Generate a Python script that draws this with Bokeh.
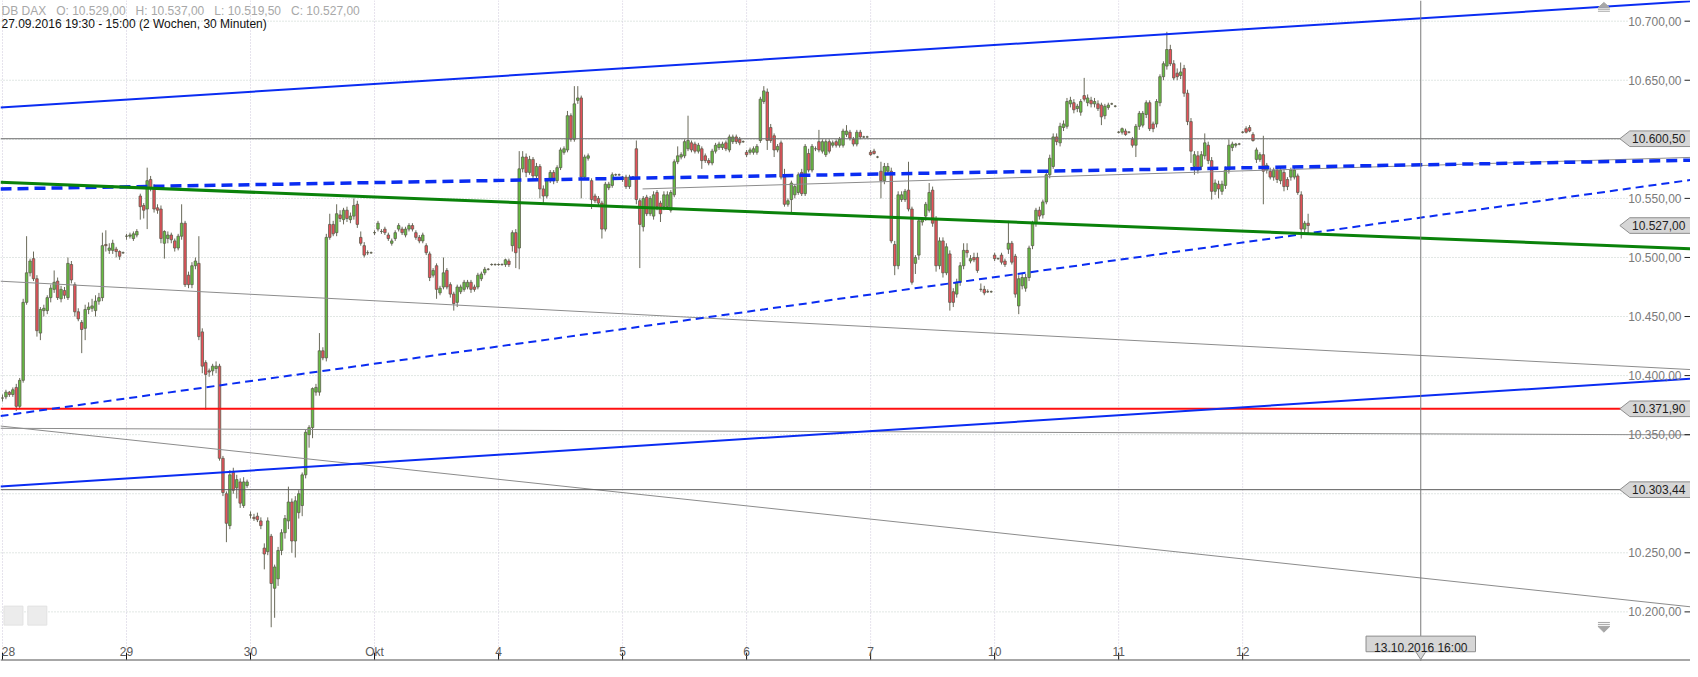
from bokeh.plotting import figure
from bokeh.models import Range1d, ColumnDataSource
from bokeh.embed import file_html
from bokeh.resources import INLINE
from bokeh.core.properties import value

# ---------------- data ----------------
day_labels = ["28", "29", "30", "Okt", "4", "5", "6", "7", "10", "11", "12"]
day_start_bar = [0, 36, 72, 108, 144, 180, 216, 252, 288, 324, 360]

opens = [
    # 28.09
    10381,10382,10386,10384,10390,10374,10396,10462,10487,10499,10482,10436,10455,10455,10466,10473,10480,10465,10472,10466,10494,10477,10454,10445,10440,10456,10457,10455,10463,10466,10511,10506,10506,10507,10505,10504,
    # 29.09
    10518,10518,10516,10519,10552,10544,10541,10566,10559,10542,10541,10512,10516,10519,10514,10508,10518,10529,10485,10477,10493,10495,10437,10411,10404,10404,10406,10408,10330,10300,10273,10318,10305,10310,10290,10307,
    # 30.09
    10282,10280,10281,10277,10254,10251,10264,10220,10228,10252,10267,10277,10293,10260,10284,10290,10316,10350,10356,10386,10386,10421,10415,10528,10528,10521,10536,10532,10540,10532,10535,10545,10517,10510,10504,10504,
    # 03.10
    10521,10524,10522,10524,10519,10512,10516,10524,10524,10519,10524,10527,10521,10517,10514,10510,10503,10485,10493,10470,10475,10489,10477,10469,10462,10471,10473,10475,10479,10475,10475,10482,10487,10490,10494,10494,
    # 04.10
    10494,10494,10494,10497,10510,10521,10508,10575,10585,10572,10583,10569,10577,10558,10552,10565,10572,10565,10576,10589,10591,10620,10600,10633,10635,10568,10584,10565,10552,10550,10546,10524,10559,10561,10570,10570,
    # 05.10
    10566,10568,10560,10568,10592,10548,10526,10551,10537,10535,10555,10546,10543,10543,10540,10553,10581,10585,10586,10592,10597,10596,10590,10592,10586,10582,10580,10590,10593,10593,10597,10591,10598,10602,10600,10598,
    # 06.10
    10589,10589,10589,10589,10599,10632,10640,10610,10603,10591,10597,10568,10545,10549,10553,10555,10572,10554,10588,10574,10592,10598,10590,10587,10598,10595,10598,10595,10595,10604,10606,10600,10596,10606,10602,10602,
    # 07.10
    10589,10590,10585,10573,10565,10573,10573,10511,10493,10549,10549,10557,10541,10495,10502,10530,10535,10540,10557,10532,10493,10514,10487,10503,10471,10469,10479,10493,10506,10497,10500,10500,10473,10473,10471,10471,
    # 10.10
    10502,10499,10502,10497,10507,10512,10501,10459,10476,10474,10483,10510,10529,10540,10536,10547,10570,10577,10602,10597,10610,10611,10630,10631,10626,10623,10637,10631,10633,10630,10630,10629,10620,10627,10630,10628,
    # 11.10
    10606,10606,10607,10606,10600,10595,10611,10612,10621,10631,10613,10613,10631,10653,10662,10676,10664,10656,10654,10660,10639,10615,10577,10586,10577,10586,10595,10582,10556,10562,10556,10561,10574,10593,10595,10596,
    # 12.10
    10606,10609,10610,10604,10583,10583,10587,10574,10573,10568,10574,10565,10572,10566,10568,10568,10569,10553,10524,10529,
]
highs = [
    10384,10388,10387,10390,10393,10398,10465,10518,10499,10505,10485,10458,10460,10468,10477,10489,10483,10476,10475,10500,10497,10479,10457,10447,10460,10462,10465,10468,10470,10521,10523,10512,10515,10509,10506,10505,
    10520,10521,10522,10524,10554,10546,10576,10569,10562,10545,10544,10523,10522,10521,10516,10520,10545,10531,10488,10496,10500,10518,10440,10413,10406,10410,10412,10410,10332,10302,10320,10322,10316,10313,10314,10312,
    10285,10283,10284,10280,10258,10280,10266,10240,10255,10270,10282,10306,10296,10298,10303,10318,10354,10358,10390,10393,10436,10424,10520,10537,10531,10545,10540,10542,10543,10538,10550,10548,10522,10513,10506,10505,
    10523,10531,10524,10526,10521,10516,10523,10529,10526,10526,10529,10529,10523,10519,10521,10512,10505,10491,10495,10476,10500,10491,10479,10471,10477,10477,10481,10481,10481,10477,10487,10488,10492,10491,10495,10495,
    10495,10495,10499,10499,10523,10524,10590,10590,10588,10586,10585,10580,10579,10561,10567,10574,10574,10578,10593,10594,10624,10622,10645,10645,10637,10587,10588,10567,10554,10552,10548,10564,10564,10572,10571,10571,
    10569,10570,10570,10569,10599,10550,10552,10553,10552,10556,10557,10548,10556,10556,10557,10583,10594,10589,10600,10620,10599,10598,10597,10594,10588,10584,10592,10597,10598,10598,10599,10604,10604,10604,10602,10599,
    10591,10593,10594,10596,10636,10645,10643,10613,10605,10596,10599,10575,10550,10565,10562,10572,10575,10596,10592,10596,10594,10608,10600,10600,10600,10599,10600,10602,10609,10612,10608,10602,10608,10608,10603,10603,
    10591,10592,10586,10581,10580,10580,10576,10514,10556,10556,10558,10581,10543,10502,10533,10534,10547,10563,10560,10535,10517,10517,10512,10506,10474,10482,10496,10512,10512,10502,10504,10504,10478,10476,10473,10472,
    10504,10500,10504,10499,10531,10514,10503,10485,10486,10486,10510,10531,10542,10543,10549,10572,10587,10605,10605,10614,10616,10635,10636,10634,10630,10634,10652,10638,10636,10635,10633,10631,10630,10631,10631,10629,
    10607,10610,10609,10607,10602,10613,10624,10624,10633,10633,10615,10634,10655,10666,10691,10680,10667,10660,10665,10663,10642,10618,10590,10590,10590,10605,10598,10585,10566,10565,10565,10577,10600,10598,10597,10597,
    10607,10611,10612,10606,10593,10589,10603,10580,10576,10576,10577,10576,10575,10568,10576,10576,10571,10556,10531,10537,
]
lows = [
    10378,10380,10382,10382,10370,10372,10394,10460,10484,10480,10433,10430,10450,10452,10462,10470,10464,10462,10465,10464,10478,10450,10446,10419,10430,10452,10454,10450,10460,10463,10505,10503,10503,10500,10498,10503,
    10515,10516,10514,10517,10532,10533,10524,10556,10538,10537,10512,10499,10512,10512,10505,10506,10515,10475,10474,10474,10490,10430,10402,10371,10399,10400,10402,10328,10298,10259,10270,10300,10296,10288,10288,10305,
    10279,10277,10276,10270,10236,10248,10187,10195,10222,10248,10262,10270,10250,10246,10279,10281,10313,10339,10347,10383,10383,10413,10412,10515,10518,10518,10530,10528,10530,10529,10532,10525,10510,10500,10502,10503,
    10519,10522,10520,10519,10514,10510,10514,10522,10519,10517,10522,10522,10515,10512,10512,10502,10480,10483,10465,10468,10473,10473,10466,10455,10458,10469,10471,10473,10470,10471,10473,10480,10485,10489,10493,10493,
    10493,10493,10492,10492,10505,10491,10490,10572,10568,10570,10566,10567,10550,10545,10550,10563,10562,10563,10574,10587,10589,10598,10598,10630,10550,10566,10582,10541,10546,10544,10516,10522,10557,10559,10569,10569,
    10564,10558,10558,10567,10545,10491,10522,10535,10535,10532,10540,10530,10540,10541,10538,10551,10579,10583,10584,10590,10589,10588,10588,10575,10580,10578,10578,10588,10591,10591,10590,10589,10596,10596,10595,10597,
    10585,10587,10587,10587,10597,10630,10591,10597,10585,10589,10566,10543,10543,10537,10550,10553,10552,10552,10572,10572,10590,10589,10588,10585,10588,10593,10593,10593,10593,10602,10599,10594,10594,10600,10601,10601,
    10586,10587,10584,10550,10562,10571,10512,10485,10490,10547,10547,10539,10477,10486,10498,10527,10531,10538,10526,10488,10490,10483,10485,10455,10458,10466,10476,10490,10500,10495,10496,10487,10471,10468,10470,10470,
    10497,10498,10494,10492,10503,10494,10466,10452,10473,10471,10480,10507,10526,10532,10533,10545,10567,10575,10595,10594,10607,10609,10627,10622,10623,10620,10632,10628,10627,10627,10624,10612,10617,10625,10629,10627,
    10605,10604,10603,10605,10593,10585,10608,10610,10618,10607,10606,10610,10628,10650,10659,10662,10650,10650,10651,10636,10612,10580,10570,10571,10574,10583,10579,10549,10553,10550,10553,10558,10571,10590,10593,10595,
    10605,10605,10606,10598,10580,10581,10545,10571,10566,10565,10563,10562,10556,10557,10565,10566,10553,10516,10520,10519.5,
]
closes = [
    10381,10386,10384,10388,10374,10396,10462,10487,10497,10482,10438,10456,10457,10466,10474,10479,10466,10473,10468,10495,10481,10454,10448,10439,10456,10458,10459,10463,10466,10510,10510,10508,10512,10505,10501,10504,
    10518,10519,10520,10522,10543,10540,10565,10559,10541,10540,10516,10522,10519,10515,10508,10518,10529,10477,10477,10493,10497,10433,10408,10401,10403,10408,10408,10330,10301,10275,10316,10303,10312,10292,10310,10310,
    10282,10279,10278,10273,10249,10277,10224,10238,10252,10267,10279,10293,10260,10294,10300,10316,10352,10356,10389,10390,10421,10415,10517,10517,10520,10537,10533,10540,10533,10535,10544,10528,10512,10502,10504,10504,
    10521,10529,10522,10521,10516,10514,10521,10527,10521,10524,10527,10524,10517,10514,10519,10504,10483,10489,10473,10474,10487,10475,10469,10461,10475,10475,10479,10479,10473,10473,10485,10486,10490,10490,10494,10494,
    10494,10494,10498,10494,10521,10504,10575,10585,10572,10583,10569,10577,10558,10552,10565,10572,10565,10576,10591,10592,10620,10600,10630,10635,10568,10585,10586,10549,10548,10546,10524,10562,10562,10570,10570,10570,
    10568,10560,10568,10568,10549,10528,10550,10537,10550,10553,10543,10537,10553,10553,10555,10581,10586,10587,10598,10599,10591,10590,10595,10582,10582,10580,10590,10595,10596,10596,10592,10602,10602,10598,10597,10598,
    10587,10591,10592,10594,10634,10641,10599,10599,10591,10594,10568,10545,10548,10563,10560,10570,10554,10594,10574,10594,10592,10591,10598,10598,10590,10597,10595,10600,10607,10607,10601,10596,10606,10602,10602,10602,
    10587,10588,10585,10565,10577,10577,10514,10493,10553,10553,10556,10541,10479,10500,10531,10532,10545,10555,10529,10493,10514,10487,10509,10462,10462,10479,10493,10506,10504,10499,10498,10489,10473,10470,10471,10471,
    10499,10499,10496,10494,10512,10496,10469,10482,10483,10483,10508,10529,10540,10535,10547,10570,10584,10602,10598,10611,10613,10632,10633,10625,10628,10632,10634,10635,10630,10632,10626,10619,10628,10629,10630,10628,
    10606,10609,10604,10606,10595,10611,10622,10622,10631,10609,10609,10632,10653,10664,10676,10664,10652,10653,10657,10639,10615,10590,10587,10574,10587,10597,10582,10556,10563,10558,10562,10574,10595,10596,10596,10596,
    10606,10606,10607,10599,10591,10587,10573,10578,10568,10574,10566,10574,10560,10560,10574,10574,10555,10524,10529,10527,
]

y_ticks = [10200, 10250, 10300, 10350, 10400, 10450, 10500, 10550, 10600, 10650, 10700]
y_label_ticks = [10200, 10250, 10350, 10400, 10450, 10500, 10550, 10650, 10700]
y_label_texts = ["10.200,00", "10.250,00", "10.350,00", "10.400,00", "10.450,00",
                 "10.500,00", "10.550,00", "10.650,00", "10.700,00"]

level_values = [10600.50, 10371.90, 10303.44]
level_texts = ["10.600,50", "10.371,90", "10.303,44"]
level_colors = ["#6e6e6e", "#ff1010", "#5a5a5a"]
level_widths = [1, 2, 1]
last_value = 10527.00
last_text = "10.527,00"

# trend lines as (bar positions, prices)
blue_upper_x, blue_upper_y = [-0.58, 490.0], [10627.0, 10716.8]
blue_lower_x, blue_lower_y = [-0.58, 490.0], [10306.1, 10397.3]
blue_thick_dash_x, blue_thick_dash_y = [-0.58, 490.0], [10558.0, 10582.3]
blue_thin_dash_x, blue_thin_dash_y = [-0.58, 490.0], [10365.8, 10565.6]
green_x, green_y = [-0.58, 490.0], [10563.6, 10507.3]
gray_upper_x, gray_upper_y = [-0.58, 490.0], [10479.9, 10405.1]
gray_lower_x, gray_lower_y = [-0.58, 490.0], [10357.3, 10204.3]
gray_flat_x, gray_flat_y = [-0.58, 490.0], [10355.4, 10349.8]
gray_rise_x, gray_rise_y = [185.8, 490.0], [10558.0, 10584.7]

cursor_bar = 411.7
cursor_text = "13.10.2016 16:00"
NB = "\u00a0"
header_line1 = ("DB DAX" + NB * 3 + "O: 10.529,00" + NB * 3 + "H: 10.537,00" + NB * 3
                + "L: 10.519,50" + NB * 3 + "C: 10.527,00")
header_line2 = "27.09.2016 19:30 - 15:00 (2 Wochen, 30 Minuten)"

# ---------------- layout ----------------
REF_W, REF_H = 1698, 677
W, H = 1690, 661
X0, X1 = -0.578, 490.0
Y0, Y1 = 10158.0, 10717.5
FONT = value("Liberation Sans")


def bx(px):
    return X0 + px / REF_W * (X1 - X0)


def vy(py):
    return Y1 - py / REF_H * (Y1 - Y0)


PV = (Y1 - Y0) / REF_H  # price per reference pixel
PB = (X1 - X0) / REF_W  # bars per reference pixel

p = figure(width=W, height=H, x_range=Range1d(X0, X1), y_range=Range1d(Y0, Y1),
           output_backend="svg", toolbar_location=None, x_axis_type=None, y_axis_type=None,
           min_border=0, min_border_left=0, min_border_right=0, min_border_top=0, min_border_bottom=0,
           outline_line_color=None, background_fill_color="white", border_fill_color="white")

# grid
p.segment(x0=[X0] * len(y_ticks), y0=y_ticks, x1=[bx(1636)] * len(y_ticks), y1=y_ticks,
          line_color="#c2cec8", line_dash="1 2", line_width=1)
p.segment(x0=day_start_bar, y0=[Y0] * len(day_start_bar), x1=day_start_bar, y1=[Y1] * len(day_start_bar),
          line_color="#cdc6da", line_dash="1 2", line_width=1)

# candles
GREEN, RED = "#66be42", "#e8505a"
n = len(closes)
src = ColumnDataSource(dict(
    x=list(range(n)),
    h=[max(a, b, c) for a, b, c in zip(highs, opens, closes)],
    l=[min(a, b, c) for a, b, c in zip(lows, opens, closes)],
    top=[max(o, c) for o, c in zip(opens, closes)],
    bottom=[min(o, c) for o, c in zip(opens, closes)],
    fill=[GREEN if c >= o else RED for o, c in zip(opens, closes)],
))
p.segment(x0="x", y0="h", x1="x", y1="l", source=src, line_color="#6a6a5a", line_width=1)
p.vbar(x="x", width=0.72, top="top", bottom="bottom", source=src,
       fill_color="fill", line_color="#5e5e4e", line_width=0.8)

# thin gray lines
for xs, ys in [(gray_upper_x, gray_upper_y), (gray_lower_x, gray_lower_y),
               (gray_flat_x, gray_flat_y), (gray_rise_x, gray_rise_y)]:
    p.line(xs, ys, line_color="#8c8c8c", line_width=1)

# horizontal levels
for v, col, lw in zip(level_values, level_colors, level_widths):
    p.line([X0, bx(1628)], [v, v], line_color=col, line_width=lw)

# blue and green trend lines
BLUE = "#0a2cf2"
p.line(blue_upper_x, blue_upper_y, line_color=BLUE, line_width=2)
p.line(blue_lower_x, blue_lower_y, line_color=BLUE, line_width=2)
p.line(blue_thin_dash_x, blue_thin_dash_y, line_color=BLUE, line_width=2, line_dash="8 5")
p.line(blue_thick_dash_x, blue_thick_dash_y, line_color=BLUE, line_width=3.5, line_dash="11 6")
p.line(green_x, green_y, line_color="#0a820a", line_width=3)

# cursor line
p.line([cursor_bar, cursor_bar], [Y0, Y1], line_color="#7a7a7a", line_width=1)

# y axis labels and ticks (right, inside)
p.text(x=[bx(1689)] * len(y_label_ticks), y=y_label_ticks, text=y_label_texts,
       text_font=FONT, text_font_size="12px", text_color="#7a7a7a",
       text_align="right", text_baseline="middle")
p.segment(x0=[bx(1692)] * len(y_ticks), y0=y_ticks, x1=[X1] * len(y_ticks), y1=y_ticks,
          line_color="#222222", line_width=1)

# price boxes
box_vals = level_values + [last_value]
box_texts = level_texts + [last_text]
hh = 8 * PV
p.patches(xs=[[bx(1627), bx(1637), X1 + 1, X1 + 1, bx(1637)] for _ in box_vals],
          ys=[[v, v + hh, v + hh, v - hh, v - hh] for v in box_vals],
          fill_color="#d6d6d6", line_color="#8e8e8e", line_width=1)
p.text(x=[bx(1666)] * len(box_vals), y=box_vals, text=box_texts,
       text_font=FONT, text_font_size="12px", text_color="#1e1e1e",
       text_align="center", text_baseline="middle")

# bottom axis
p.line([X0, X1], [vy(675.5), vy(675.5)], line_color="#8a8a8a", line_width=1.5)
p.segment(x0=day_start_bar, y0=[vy(668)] * len(day_start_bar), x1=day_start_bar,
          y1=[vy(675)] * len(day_start_bar), line_color="#111111", line_width=1)
label_x = [max(b, bx(8)) for b in day_start_bar]  # keep the first label inside the frame
p.text(x=label_x, y=[vy(667)] * len(day_start_bar), text=day_labels,
       text_font=FONT, text_font_size="12px", text_color="#5a5a5a",
       text_align="center", text_baseline="alphabetic")

# cursor label
half = 55 * PB
p.patches(xs=[[cursor_bar - half, cursor_bar + half, cursor_bar + half, cursor_bar + 5 * PB,
               cursor_bar, cursor_bar - 5 * PB, cursor_bar - half]],
          ys=[[vy(651), vy(651), vy(667), vy(667), vy(675), vy(667), vy(667)]],
          fill_color="#d6d6d6", line_color="#8e8e8e", line_width=1)
p.text(x=[cursor_bar], y=[vy(663.5)], text=[cursor_text], text_font=FONT, text_font_size="12px",
       text_color="#1e1e1e", text_align="center", text_baseline="alphabetic")

# header
p.text(x=[bx(1), bx(1)], y=[vy(10.5), vy(24.5)], text=[header_line1, header_line2],
       text_font=FONT, text_font_size="12px", text_color=["#a8a8a8", "#111111"],
       text_align="left", text_baseline="alphabetic")

# scroll icons (right) and zoom buttons (bottom left)
ICON = "#a6a6a6"
p.patches(xs=[[bx(1605), bx(1617), bx(1611)], [bx(1605), bx(1617), bx(1611)]],
          ys=[[vy(7.5), vy(7.5), vy(2)], [vy(641), vy(641), vy(647)]],
          fill_color=ICON, line_color=ICON)
p.segment(x0=[bx(1605)] * 4, x1=[bx(1617)] * 4,
          y0=[vy(9), vy(11), vy(637), vy(639)], y1=[vy(9), vy(11), vy(637), vy(639)],
          line_color=ICON, line_width=1)
p.rect(x=[bx(13), bx(37)], y=[vy(630), vy(630)], width=19, height=19,
       width_units="screen", height_units="screen", fill_color="#ececec", line_color="#e2e2e2")

open("out.html", "w").write(file_html(p, INLINE))
